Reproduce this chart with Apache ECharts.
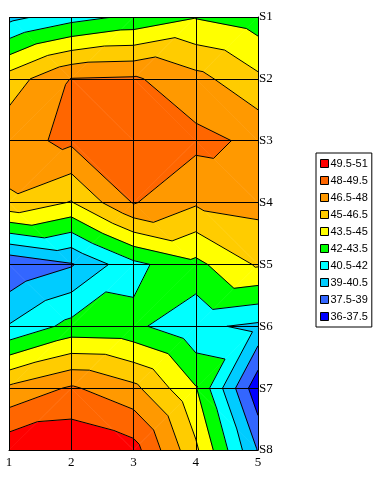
<!DOCTYPE html>
<html>
<head>
<meta charset="utf-8">
<script src="https://cdn.jsdelivr.net/npm/echarts@6/dist/echarts.min.js"></script>
<style>
html, body { margin: 0; padding: 0; background: #fff; }
#chart { width: 378px; height: 487px; }
</style>
</head>
<body>
<div id="chart"></div>
<script>
// x categories (columns) and series (rows, top to bottom)
var xLabels = ['1', '2', '3', '4', '5'];
var rowNames = ['S1', 'S2', 'S3', 'S4', 'S5', 'S6', 'S7', 'S8'];

// values, one array per series
var S1 = [40.0, 41.4, 42.3, 43.4, 42.7];
var S2 = [45.7, 48.05, 48.2, 47.0, 45.3];
var S3 = [47.5, 48.3, 49.0, 48.4, 47.7];
var S4 = [46.2, 44.9, 48.1, 46.7, 47.0];
var S5 = [37.7, 38.85, 41.6, 43.1, 45.2];
var S6 = [40.6, 42.5, 42.35, 40.8, 40.2];
var S7 = [46.8, 48.2, 46.9, 43.6, 36.4];
var S8 = [50.6, 50.8, 50.1, 45.3, 38.9];

// contour bands, legend order
var bandLabels = ['49.5-51', '48-49.5', '46.5-48', '45-46.5', '43.5-45', '42-43.5', '40.5-42', '39-40.5', '37.5-39', '36-37.5'];
var bandLow = [49.5, 48, 46.5, 45, 43.5, 42, 40.5, 39, 37.5, 36];
var bandHigh = [51, 49.5, 48, 46.5, 45, 43.5, 42, 40.5, 39, 37.5];
var bandColors = ['#FF0000', '#FF6600', '#FF9900', '#FFCC00', '#FFFF00', '#00FF00', '#00FFFF', '#00CCFF', '#3366FF', '#0000FF'];

var rows = [S1, S2, S3, S4, S5, S6, S7, S8];

// cells: [col, row]
var cells = [];
for (var r = 0; r < rows.length - 1; r++) {
    for (var c = 0; c < xLabels.length - 1; c++) {
        cells.push([c, r]);
    }
}

// each cell split in 2 triangles along the diagonal with the higher mean
// vertices [x, y, value] in axis units
function cellTriangles(c, r) {
    var TL = [c + 1, r + 1, rows[r][c]];
    var TR = [c + 2, r + 1, rows[r][c + 1]];
    var BR = [c + 2, r + 2, rows[r + 1][c + 1]];
    var BL = [c + 1, r + 2, rows[r + 1][c]];
    if (TL[2] + BR[2] >= TR[2] + BL[2]) {
        return [[TL, TR, BR], [TL, BR, BL]];
    }
    return [[TL, TR, BL], [TR, BR, BL]];
}

function clip(poly, level, keepAbove) {
    var out = [];
    for (var k = 0; k < poly.length; k++) {
        var a = poly[k], b = poly[(k + 1) % poly.length];
        var ina = keepAbove ? a[2] >= level : a[2] <= level;
        var inb = keepAbove ? b[2] >= level : b[2] <= level;
        if (ina) out.push(a);
        if (ina !== inb) {
            var t = (level - a[2]) / (b[2] - a[2]);
            out.push([a[0] + t * (b[0] - a[0]), a[1] + t * (b[1] - a[1]), level]);
        }
    }
    return out;
}

function bandSeries(b) {
    var lo = b === bandLow.length - 1 ? -Infinity : bandLow[b];
    var hi = b === 0 ? Infinity : bandHigh[b];
    return {
        name: bandLabels[b],
        type: 'custom',
        itemStyle: { color: bandColors[b] },
        data: cells,
        clip: true,
        renderItem: function (params, api) {
            var c = api.value(0), r = api.value(1);
            var children = [];
            cellTriangles(c, r).forEach(function (tri) {
                var poly = clip(clip(tri, lo, true), hi, false);
                if (poly.length < 3) return;
                children.push({
                    type: 'polygon',
                    shape: { points: poly.map(function (q) { return api.coord([q[0], q[1]]); }) },
                    style: { fill: bandColors[b], stroke: bandColors[b], lineWidth: 0.6 }
                });
            });
            return { type: 'group', children: children };
        }
    };
}

var levels = bandLow.slice(0, bandLow.length - 1);

var lineSeries = {
    name: 'lines',
    type: 'custom',
    data: cells,
    clip: true,
    z: 5,
    silent: true,
    renderItem: function (params, api) {
        var c = api.value(0), r = api.value(1);
        var children = [];
        cellTriangles(c, r).forEach(function (tri) {
            levels.forEach(function (L) {
                var pts = [];
                for (var k = 0; k < 3; k++) {
                    var a = tri[k], b = tri[(k + 1) % 3];
                    if ((a[2] - L) * (b[2] - L) < 0) {
                        var t = (L - a[2]) / (b[2] - a[2]);
                        pts.push(api.coord([a[0] + t * (b[0] - a[0]), a[1] + t * (b[1] - a[1])]));
                    }
                }
                if (pts.length === 2) {
                    children.push({
                        type: 'line',
                        shape: { x1: pts[0][0], y1: pts[0][1], x2: pts[1][0], y2: pts[1][1] },
                        style: { stroke: '#000', lineWidth: 1 }
                    });
                }
            });
        });
        return { type: 'group', children: children };
    }
};

var series = bandLabels.map(function (n, b) { return bandSeries(b); });
series.push(lineSeries);

var chart = echarts.init(document.getElementById('chart'));
chart.setOption({
    animation: false,
    grid: { left: 9, right: 120, top: 17, bottom: 37 },
    legend: {
        data: bandLabels.map(function (n) { return { name: n, icon: 'rect' }; }),
        orient: 'vertical',
        left: 316,
        top: 153,
        itemWidth: 8,
        itemHeight: 8,
        itemGap: 6,
        padding: [5, 4, 5, 4],
        borderColor: '#000',
        borderWidth: 1,
        borderRadius: 0,
        selectedMode: false,
        itemStyle: { borderColor: '#000', borderWidth: 1 },
        textStyle: { fontFamily: 'Liberation Sans', fontSize: 11, color: '#000', padding: [0, 0, 0, -3] }
    },
    xAxis: {
        type: 'value',
        min: 1,
        max: 5,
        interval: 1,
        z: 10,
        axisLine: { lineStyle: { color: '#000', width: 1 } },
        axisTick: { show: false },
        splitLine: { show: true, lineStyle: { color: '#000', width: 1 } },
        axisLabel: {
            margin: 6,
            fontFamily: 'Liberation Serif',
            fontSize: 13,
            color: '#000',
            formatter: function (v) { return xLabels[v - 1]; }
        }
    },
    yAxis: {
        type: 'value',
        min: 1,
        max: 8,
        interval: 1,
        inverse: true,
        position: 'right',
        z: 10,
        axisLine: { show: true, lineStyle: { color: '#000', width: 1 } },
        axisTick: { show: false },
        splitLine: { show: true, lineStyle: { color: '#000', width: 1 } },
        axisLabel: {
            margin: 1,
            fontFamily: 'Liberation Serif',
            fontSize: 13,
            color: '#000',
            formatter: function (v) { return rowNames[v - 1]; }
        }
    },
    series: series
});
</script>
</body>
</html>
